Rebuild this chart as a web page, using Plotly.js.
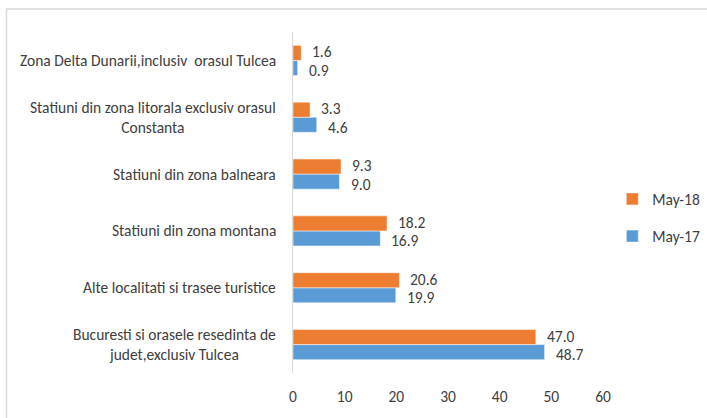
<!DOCTYPE html>
<html>
<head>
<meta charset="utf-8">
<script src="https://cdn.plot.ly/plotly-3.0.1.min.js"></script>
<style>html,body{margin:0;padding:0;background:#fff;}#chart{width:707px;height:418px;}</style>
</head>
<body>
<div id="chart"></div>
<script>
// Categories listed bottom to top
const categories = [
  "Bucuresti si orasele resedinta de<br>judet,exclusiv Tulcea",
  "Alte localitati si trasee turistice",
  "Statiuni din zona montana",
  "Statiuni din zona balneara",
  "Statiuni din zona litorala exclusiv orasul<br>Constanta",
  "Zona Delta Dunarii,inclusiv  orasul Tulcea"
];
const may17 = [48.7, 19.9, 16.9, 9.0, 4.6, 0.9];
const may18 = [47.0, 20.6, 18.2, 9.3, 3.3, 1.6];
const seriesNames = ["May-17", "May-18"];
const xTicks = [0, 10, 20, 30, 40, 50, 60];

const FONT = "Carlito, 'Liberation Sans', Arial, sans-serif";
const TXT = "#404040";
const FS = 15.5;

const traces = [
  {type: "bar", orientation: "h", name: seriesNames[0], y: categories, x: may17,
   legendgroup: "g17", legendrank: 2,
   marker: {color: "#5B9BD5", line: {color: "#ffffff", width: 0.5}}, hoverinfo: "x+name"},
  {type: "bar", orientation: "h", name: seriesNames[1], y: categories, x: may18,
   legendgroup: "g18", legendrank: 1,
   marker: {color: "#ED7D31", line: {color: "#ffffff", width: 0.5}}, hoverinfo: "x+name"}
];

const catAnnotations = categories.map(c => ({
  xref: "paper", yref: "y", x: 0, y: c, xanchor: "right", yanchor: "middle",
  xshift: -15, text: c, showarrow: false, align: "center",
  font: {family: FONT, size: FS, color: TXT}
}));

function valueLabels(vals, yshift) {
  return vals.map((v, i) => ({
    xref: "x", yref: "y", x: v, y: categories[i], xanchor: "left", yanchor: "middle",
    xshift: 9, yshift: yshift, text: v.toFixed(1), showarrow: false,
    font: {family: FONT, size: FS, color: TXT}
  }));
}

const layout = {
  width: 707, height: 418,
  margin: {l: 293, r: 104, t: 31.5, b: 44.5, autoexpand: false},
  paper_bgcolor: "#ffffff", plot_bgcolor: "#ffffff",
  barmode: "group", bargap: 0.47, bargroupgap: 0,
  showlegend: true,
  legend: {x: 1.03, y: 0.455, xanchor: "left", yanchor: "middle", traceorder: "grouped",
           font: {family: FONT, size: FS, color: TXT}, itemwidth: 30, tracegroupgap: 14,
           bgcolor: "rgba(0,0,0,0)"},
  xaxis: {range: [0, 60], tickvals: xTicks, showgrid: false, zeroline: false, showline: false,
          ticks: "", ticklabelstandoff: 12, tickfont: {family: FONT, size: FS, color: TXT}, fixedrange: true},
  yaxis: {type: "category", categoryorder: "array", categoryarray: categories,
          range: [-0.5, 5.5], showticklabels: false, showgrid: false, zeroline: false,
          showline: true, linecolor: "#d9d9d9", linewidth: 1, ticks: "", fixedrange: true},
  annotations: catAnnotations.concat(valueLabels(may18, 8.5), valueLabels(may17, -10)),
  shapes: [{type: "rect", xref: "paper", yref: "paper", x0: -0.9242, x1: 1.377, y0: -0.165, y1: 1.0673,
            line: {color: "#d9d9d9", width: 1.5}, fillcolor: "rgba(0,0,0,0)", layer: "below"}]
};

Plotly.newPlot("chart", traces, layout, {displayModeBar: false, staticPlot: true});
</script>
</body>
</html>
